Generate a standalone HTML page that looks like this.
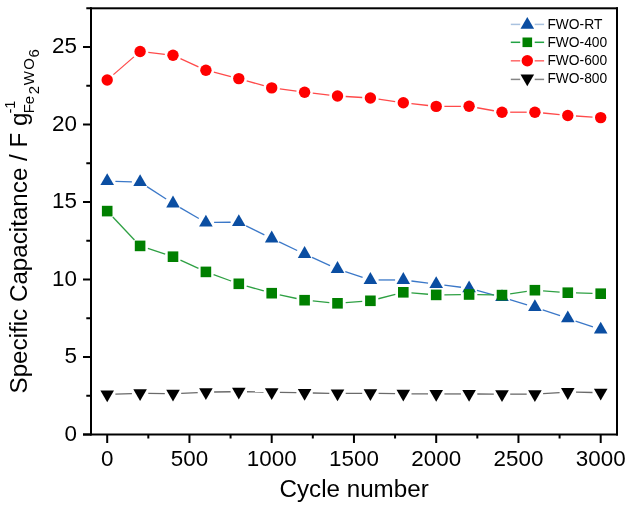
<!DOCTYPE html>
<html><head><meta charset="utf-8"><style>
html,body{margin:0;padding:0;background:#fff;}
svg{display:block;font-family:"Liberation Sans",sans-serif;}
text{filter:grayscale(1);}
</style></head><body>
<svg width="630" height="509" viewBox="0 0 630 509">
<rect width="630" height="509" fill="#fff"/>
<g stroke="#3b78c8" stroke-width="1.3" stroke-linecap="butt"><line x1="115.40" y1="181.34" x2="131.90" y2="181.89"/><line x1="146.98" y1="186.62" x2="166.12" y2="199.01"/><line x1="180.09" y1="207.58" x2="198.81" y2="218.45"/><line x1="214.10" y1="222.46" x2="230.60" y2="222.26"/><line x1="246.15" y1="225.80" x2="264.35" y2="234.82"/><line x1="279.12" y1="241.96" x2="297.18" y2="250.47"/><line x1="312.06" y1="257.36" x2="330.04" y2="265.56"/><line x1="345.28" y1="271.56" x2="362.62" y2="277.36"/><line x1="378.60" y1="279.96" x2="395.10" y2="279.96"/><line x1="411.43" y1="281.00" x2="428.07" y2="283.12"/><line x1="444.34" y1="285.18" x2="460.96" y2="287.25"/><line x1="477.02" y1="290.40" x2="494.08" y2="295.02"/><line x1="509.85" y1="299.55" x2="527.05" y2="304.78"/><line x1="542.66" y1="309.81" x2="560.04" y2="315.72"/><line x1="575.56" y1="321.01" x2="592.94" y2="326.92"/></g>
<g fill="#0b4ea2"><path d="M107.20 173.21L114.00 184.99L100.40 184.99Z"/><path d="M140.10 174.31L146.90 186.09L133.30 186.09Z"/><path d="M173.00 195.61L179.80 207.39L166.20 207.39Z"/><path d="M205.90 214.71L212.70 226.49L199.10 226.49Z"/><path d="M238.80 214.31L245.60 226.09L232.00 226.09Z"/><path d="M271.70 230.61L278.50 242.39L264.90 242.39Z"/><path d="M304.60 246.11L311.40 257.89L297.80 257.89Z"/><path d="M337.50 261.11L344.30 272.89L330.70 272.89Z"/><path d="M370.40 272.11L377.20 283.89L363.60 283.89Z"/><path d="M403.30 272.11L410.10 283.89L396.50 283.89Z"/><path d="M436.20 276.31L443.00 288.09L429.40 288.09Z"/><path d="M469.10 280.41L475.90 292.19L462.30 292.19Z"/><path d="M502.00 289.31L508.80 301.09L495.20 301.09Z"/><path d="M534.90 299.31L541.70 311.09L528.10 311.09Z"/><path d="M567.80 310.51L574.60 322.29L561.00 322.29Z"/><path d="M600.70 321.71L607.50 333.49L593.90 333.49Z"/></g>
<g stroke="#2ea043" stroke-width="1.3" stroke-linecap="butt"><line x1="112.83" y1="217.06" x2="134.47" y2="239.94"/><line x1="147.89" y1="248.46" x2="165.21" y2="254.14"/><line x1="180.44" y1="260.14" x2="198.46" y2="268.46"/><line x1="213.61" y1="274.69" x2="231.09" y2="281.01"/><line x1="246.68" y1="286.05" x2="263.82" y2="290.95"/><line x1="279.72" y1="294.91" x2="296.58" y2="298.49"/><line x1="312.76" y1="300.97" x2="329.34" y2="302.53"/><line x1="345.68" y1="302.68" x2="362.22" y2="301.42"/><line x1="378.34" y1="298.75" x2="395.36" y2="294.35"/><line x1="411.47" y1="292.95" x2="428.03" y2="294.25"/><line x1="444.40" y1="294.80" x2="460.90" y2="294.60"/><line x1="477.30" y1="294.65" x2="493.80" y2="294.95"/><line x1="510.11" y1="293.89" x2="526.79" y2="291.41"/><line x1="543.08" y1="290.82" x2="559.62" y2="292.08"/><line x1="576.00" y1="292.95" x2="592.50" y2="293.45"/></g>
<g fill="#008000"><rect x="101.90" y="205.80" width="10.6" height="10.6"/><rect x="134.80" y="240.60" width="10.6" height="10.6"/><rect x="167.70" y="251.40" width="10.6" height="10.6"/><rect x="200.60" y="266.60" width="10.6" height="10.6"/><rect x="233.50" y="278.50" width="10.6" height="10.6"/><rect x="266.40" y="287.90" width="10.6" height="10.6"/><rect x="299.30" y="294.90" width="10.6" height="10.6"/><rect x="332.20" y="298.00" width="10.6" height="10.6"/><rect x="365.10" y="295.50" width="10.6" height="10.6"/><rect x="398.00" y="287.00" width="10.6" height="10.6"/><rect x="430.90" y="289.60" width="10.6" height="10.6"/><rect x="463.80" y="289.20" width="10.6" height="10.6"/><rect x="496.70" y="289.80" width="10.6" height="10.6"/><rect x="529.60" y="284.90" width="10.6" height="10.6"/><rect x="562.50" y="287.40" width="10.6" height="10.6"/><rect x="595.40" y="288.40" width="10.6" height="10.6"/></g>
<g stroke="#ff4a4a" stroke-width="1.3" stroke-linecap="butt"><line x1="113.40" y1="74.63" x2="133.90" y2="56.87"/><line x1="148.25" y1="52.42" x2="164.85" y2="54.28"/><line x1="180.46" y1="58.60" x2="198.44" y2="66.80"/><line x1="213.85" y1="72.23" x2="230.85" y2="76.57"/><line x1="246.69" y1="80.83" x2="263.81" y2="85.67"/><line x1="279.83" y1="88.96" x2="296.47" y2="91.14"/><line x1="312.75" y1="93.14" x2="329.35" y2="95.06"/><line x1="345.68" y1="96.50" x2="362.22" y2="97.50"/><line x1="378.52" y1="99.16" x2="395.18" y2="101.54"/><line x1="411.45" y1="103.62" x2="428.05" y2="105.48"/><line x1="444.40" y1="106.38" x2="460.90" y2="106.32"/><line x1="477.17" y1="107.75" x2="493.93" y2="110.75"/><line x1="510.20" y1="112.20" x2="526.70" y2="112.20"/><line x1="543.06" y1="113.02" x2="559.64" y2="114.68"/><line x1="575.98" y1="116.02" x2="592.52" y2="117.08"/></g>
<g fill="#ff0000"><circle cx="107.20" cy="80.00" r="5.7"/><circle cx="140.10" cy="51.50" r="5.7"/><circle cx="173.00" cy="55.20" r="5.7"/><circle cx="205.90" cy="70.20" r="5.7"/><circle cx="238.80" cy="78.60" r="5.7"/><circle cx="271.70" cy="87.90" r="5.7"/><circle cx="304.60" cy="92.20" r="5.7"/><circle cx="337.50" cy="96.00" r="5.7"/><circle cx="370.40" cy="98.00" r="5.7"/><circle cx="403.30" cy="102.70" r="5.7"/><circle cx="436.20" cy="106.40" r="5.7"/><circle cx="469.10" cy="106.30" r="5.7"/><circle cx="502.00" cy="112.20" r="5.7"/><circle cx="534.90" cy="112.20" r="5.7"/><circle cx="567.80" cy="115.50" r="5.7"/><circle cx="600.70" cy="117.60" r="5.7"/></g>
<g stroke="#6a6a6a" stroke-width="1.3" stroke-linecap="butt"><line x1="115.39" y1="394.14" x2="131.91" y2="393.54"/><line x1="148.30" y1="393.36" x2="164.80" y2="393.61"/><line x1="181.19" y1="393.34" x2="197.71" y2="392.54"/><line x1="214.10" y1="392.01" x2="230.60" y2="391.76"/><line x1="247.00" y1="391.76" x2="263.50" y2="392.01"/><line x1="279.90" y1="392.31" x2="296.40" y2="392.66"/><line x1="312.80" y1="392.99" x2="329.30" y2="393.29"/><line x1="345.70" y1="393.39" x2="362.20" y2="393.29"/><line x1="378.60" y1="393.36" x2="395.10" y2="393.61"/><line x1="411.50" y1="393.79" x2="428.00" y2="393.89"/><line x1="444.40" y1="393.94" x2="460.90" y2="393.94"/><line x1="477.30" y1="393.99" x2="493.80" y2="394.09"/><line x1="510.20" y1="394.14" x2="526.70" y2="394.14"/><line x1="543.08" y1="393.61" x2="559.62" y2="392.56"/><line x1="576.00" y1="392.19" x2="592.50" y2="392.49"/></g>
<g fill="#000"><path d="M107.20 402.29L114.00 390.51L100.40 390.51Z"/><path d="M140.10 401.09L146.90 389.31L133.30 389.31Z"/><path d="M173.00 401.59L179.80 389.81L166.20 389.81Z"/><path d="M205.90 399.99L212.70 388.21L199.10 388.21Z"/><path d="M238.80 399.49L245.60 387.71L232.00 387.71Z"/><path d="M271.70 399.99L278.50 388.21L264.90 388.21Z"/><path d="M304.60 400.69L311.40 388.91L297.80 388.91Z"/><path d="M337.50 401.29L344.30 389.51L330.70 389.51Z"/><path d="M370.40 401.09L377.20 389.31L363.60 389.31Z"/><path d="M403.30 401.59L410.10 389.81L396.50 389.81Z"/><path d="M436.20 401.79L443.00 390.01L429.40 390.01Z"/><path d="M469.10 401.79L475.90 390.01L462.30 390.01Z"/><path d="M502.00 401.99L508.80 390.21L495.20 390.21Z"/><path d="M534.90 401.99L541.70 390.21L528.10 390.21Z"/><path d="M567.80 399.89L574.60 388.11L561.00 388.11Z"/><path d="M600.70 400.49L607.50 388.71L593.90 388.71Z"/></g>
<g fill="#000"><rect x="90" y="7.3" width="528" height="2" /><rect x="90" y="7.3" width="2" height="428.2" /><rect x="616" y="7.3" width="2" height="428.2" /><rect x="83" y="433.5" width="535" height="2" /><rect x="83" y="433.50" width="8" height="2"/><rect x="83" y="356.00" width="8" height="2"/><rect x="83" y="278.50" width="8" height="2"/><rect x="83" y="201.00" width="8" height="2"/><rect x="83" y="123.50" width="8" height="2"/><rect x="83" y="46.00" width="8" height="2"/><rect x="86.3" y="394.75" width="5" height="2"/><rect x="86.3" y="317.25" width="5" height="2"/><rect x="86.3" y="239.75" width="5" height="2"/><rect x="86.3" y="162.25" width="5" height="2"/><rect x="86.3" y="84.75" width="5" height="2"/><rect x="86.3" y="7.25" width="5" height="2"/><rect x="106.20" y="434" width="2" height="9"/><rect x="188.45" y="434" width="2" height="9"/><rect x="270.70" y="434" width="2" height="9"/><rect x="352.95" y="434" width="2" height="9"/><rect x="435.20" y="434" width="2" height="9"/><rect x="517.45" y="434" width="2" height="9"/><rect x="599.70" y="434" width="2" height="9"/><rect x="147.32" y="434" width="2" height="4.5"/><rect x="229.57" y="434" width="2" height="4.5"/><rect x="311.82" y="434" width="2" height="4.5"/><rect x="394.07" y="434" width="2" height="4.5"/><rect x="476.32" y="434" width="2" height="4.5"/><rect x="558.58" y="434" width="2" height="4.5"/></g>
<g font-size="22.4" fill="#000"><text x="77" y="440.60" text-anchor="end">0</text><text x="77" y="363.10" text-anchor="end">5</text><text x="77" y="285.60" text-anchor="end">10</text><text x="77" y="208.10" text-anchor="end">15</text><text x="77" y="130.60" text-anchor="end">20</text><text x="77" y="53.10" text-anchor="end">25</text><text x="107.20" y="465.8" text-anchor="middle">0</text><text x="189.45" y="465.8" text-anchor="middle">500</text><text x="271.70" y="465.8" text-anchor="middle">1000</text><text x="353.95" y="465.8" text-anchor="middle">1500</text><text x="436.20" y="465.8" text-anchor="middle">2000</text><text x="518.45" y="465.8" text-anchor="middle">2500</text><text x="600.70" y="465.8" text-anchor="middle">3000</text></g>
<text x="354.1" y="496.6" font-size="24.2" text-anchor="middle">Cycle number</text>
<g transform="rotate(-90)" fill="#000">
<text x="-393.5" y="26.6" font-size="24.2">Specific Capacitance / F g</text>
<text x="-113.6" y="14.7" font-size="14.5">-1</text>
<text x="-113.3" y="33.5" font-size="15">Fe</text>
<text x="-90.2" y="39.4" font-size="15" text-anchor="middle">2</text>
<text x="-78.1" y="33.6" font-size="15" text-anchor="middle">W</text>
<text x="-63.9" y="33.6" font-size="15" text-anchor="middle">O</text>
<text x="-53.4" y="39.4" font-size="15" text-anchor="middle">6</text>
</g>
<rect x="510.8" y="23.65" width="9.4" height="1.5" fill="#a9c2df"/><rect x="534.7" y="23.65" width="9.4" height="1.5" fill="#a9c2df"/><g fill="#0b4ea2"><path d="M527.30 17.05L534.10 28.83L520.50 28.83Z"/></g><text x="547.4" y="28.6" font-size="13.8">FWO-RT</text><rect x="510.8" y="41.55" width="9.4" height="1.5" fill="#22a344"/><rect x="534.7" y="41.55" width="9.4" height="1.5" fill="#22a344"/><g fill="#008000"><rect x="522.50" y="37.50" width="9.6" height="9.6"/></g><text x="547.4" y="46.7" font-size="13.8">FWO-400</text><rect x="510.8" y="60.05" width="9.4" height="1.5" fill="#ff6a6a"/><rect x="534.7" y="60.05" width="9.4" height="1.5" fill="#ff6a6a"/><g fill="#ff0000"><circle cx="527.30" cy="60.80" r="5.7"/></g><text x="547.4" y="64.9" font-size="13.8">FWO-600</text><rect x="510.8" y="78.65" width="9.4" height="1.5" fill="#858585"/><rect x="534.7" y="78.65" width="9.4" height="1.5" fill="#858585"/><g fill="#000"><path d="M527.30 86.35L534.10 74.57L520.50 74.57Z"/></g><text x="547.4" y="83.0" font-size="13.8">FWO-800</text>
</svg>
</body></html>
